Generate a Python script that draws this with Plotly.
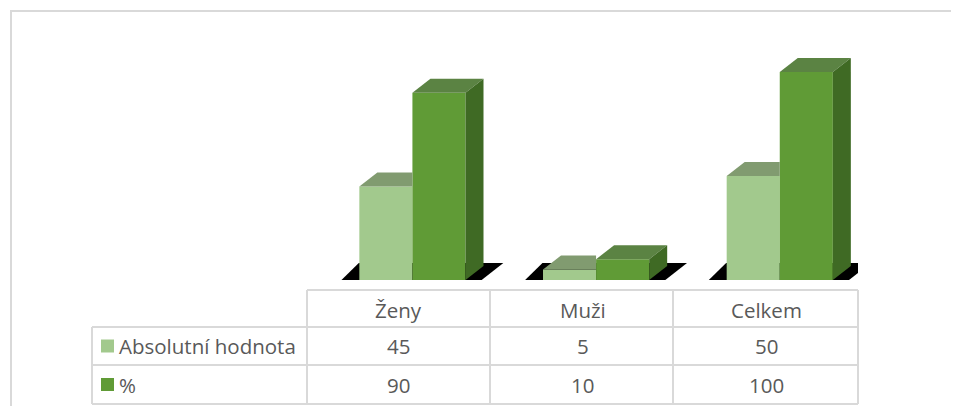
import plotly.graph_objects as go

categories = ["Ženy", "Muži", "Celkem"]
series_names = ["Absolutní hodnota", "%"]
absolutni = [45, 5, 50]
procenta = [90, 10, 100]

# the page body adds an 8px margin, so the figure is drawn smaller to avoid scrollbars
PAGE = 8
W, H = 959 - 2 * PAGE, 414 - 2 * PAGE
PLOT_X = (307, 858)   # plot area in page pixels
PLOT_Y = (40, 280)
L, R = PLOT_X[0] - PAGE, W - (PLOT_X[1] - PAGE)
T, B = PLOT_Y[0] - PAGE, H - (PLOT_Y[1] - PAGE)
Y_TOP = 115.4

light_front = "#a2c98d"
light_top = "#819b70"
dark_front = "#609b36"
dark_top = "#5b8343"
dark_side = "#3f6a24"
grid = "#d9d9d9"
txt = "#595959"

bar_w = 0.289
off_light = -0.215
off_dark = 0.074
dx = 0.098   # 3d depth in x units
dy = 6.73    # 3d depth in y units


def px_x(p):
    return (p - PLOT_X[0]) / (PLOT_X[1] - PLOT_X[0])


def px_y(p):
    return (PLOT_Y[1] - p) / (PLOT_Y[1] - PLOT_Y[0])


def poly(pts):
    return "M " + " L ".join(f"{a} {b}" for a, b in pts) + " Z"


x = list(range(len(categories)))

fig = go.Figure()
fig.add_trace(go.Bar(x=x, y=absolutni, name=series_names[0], width=bar_w, offset=off_light,
                     marker=dict(color=light_front, line=dict(width=0))))
fig.add_trace(go.Bar(x=x, y=procenta, name=series_names[1], width=bar_w, offset=off_dark,
                     marker=dict(color=dark_front, line=dict(width=0))))

shapes = []
for i in x:
    # floor
    shapes.append(dict(type="path", xref="x", yref="y", layer="below", line=dict(width=0),
                       fillcolor="black",
                       path=poly([(i - 0.340, -2.4), (i + 0.4165, -2.4), (i + 0.569, 8.2), (i - 0.218, 8.2)])))
    # light bar top (trimmed where the dark bar hides it)
    x0 = i + off_light
    x1 = x0 + bar_w
    h = absolutni[i]
    shapes.append(dict(type="path", xref="x", yref="y", layer="above", line=dict(width=0),
                       fillcolor=light_top,
                       path=poly([(x0, h), (x1, h), (x1, h + dy), (x0 + dx, h + dy)])))
    # dark bar top and side
    x0 = i + off_dark
    x1 = x0 + bar_w
    h = procenta[i]
    shapes.append(dict(type="path", xref="x", yref="y", layer="above", line=dict(width=0),
                       fillcolor=dark_top,
                       path=poly([(x0, h), (x1, h), (x1 + dx, h + dy), (x0 + dx, h + dy)])))
    shapes.append(dict(type="path", xref="x", yref="y", layer="above", line=dict(width=0),
                       fillcolor=dark_side,
                       path=poly([(x1, 0), (x1, h), (x1 + dx, h + dy), (x1 + dx, dy)])))

# outer chart border (only top and left are inside the picture)
shapes.append(dict(type="line", xref="paper", yref="paper", x0=px_x(10), x1=px_x(960),
                   y0=px_y(11), y1=px_y(11), line=dict(color=grid, width=2)))
shapes.append(dict(type="line", xref="paper", yref="paper", x0=px_x(11), x1=px_x(11),
                   y0=px_y(10), y1=px_y(420), line=dict(color=grid, width=2)))

# data table grid
rows = [290, 327, 365, 404]
cols = [92, 307, 490, 673, 858]
shapes.append(dict(type="line", xref="paper", yref="paper", x0=px_x(307), x1=px_x(858),
                   y0=px_y(rows[0]), y1=px_y(rows[0]), line=dict(color=grid, width=2)))
for r in rows[1:]:
    shapes.append(dict(type="line", xref="paper", yref="paper", x0=px_x(92), x1=px_x(858),
                       y0=px_y(r), y1=px_y(r), line=dict(color=grid, width=2)))
shapes.append(dict(type="line", xref="paper", yref="paper", x0=px_x(92), x1=px_x(92),
                   y0=px_y(rows[1]), y1=px_y(rows[3]), line=dict(color=grid, width=2)))
for c in cols[1:]:
    shapes.append(dict(type="line", xref="paper", yref="paper", x0=px_x(c), x1=px_x(c),
                       y0=px_y(rows[0]), y1=px_y(rows[3]), line=dict(color=grid, width=2)))

# legend keys
for k, col in enumerate([light_front, dark_front]):
    yc = (rows[k + 1] + rows[k + 2]) / 2
    shapes.append(dict(type="rect", xref="paper", yref="paper", x0=px_x(101), x1=px_x(114),
                       y0=px_y(yc + 6.5), y1=px_y(yc - 6.5), line=dict(width=0), fillcolor=col))

font = dict(family="Open Sans", size=20.5, color=txt)
annotations = []
for i, c in enumerate(categories):
    annotations.append(dict(x=i, xref="x", y=px_y((rows[0] + rows[1]) / 2 + 1), yref="paper",
                            text=c, showarrow=False, font=font, xanchor="center", yanchor="middle"))
    for k, vals in enumerate([absolutni, procenta]):
        yc = (rows[k + 1] + rows[k + 2]) / 2
        annotations.append(dict(x=i, xref="x", y=px_y(yc), yref="paper", text=str(vals[i]),
                                showarrow=False, font=font, xanchor="center", yanchor="middle"))
for k, name in enumerate(series_names):
    yc = (rows[k + 1] + rows[k + 2]) / 2
    annotations.append(dict(x=px_x(117), xref="paper", y=px_y(yc), yref="paper", text=name,
                            showarrow=False, font=font, xanchor="left", yanchor="middle"))

fig.update_layout(
    width=W, height=H,
    margin=dict(l=L, r=R, t=T, b=B),
    paper_bgcolor="white", plot_bgcolor="white",
    showlegend=False, barmode="overlay",
    shapes=shapes, annotations=annotations,
)
fig.update_xaxes(range=[-0.5, 2.5], visible=False, fixedrange=True)
fig.update_yaxes(range=[0, Y_TOP], visible=False, fixedrange=True)

fig.write_html("out.html", config={"displayModeBar": False})
